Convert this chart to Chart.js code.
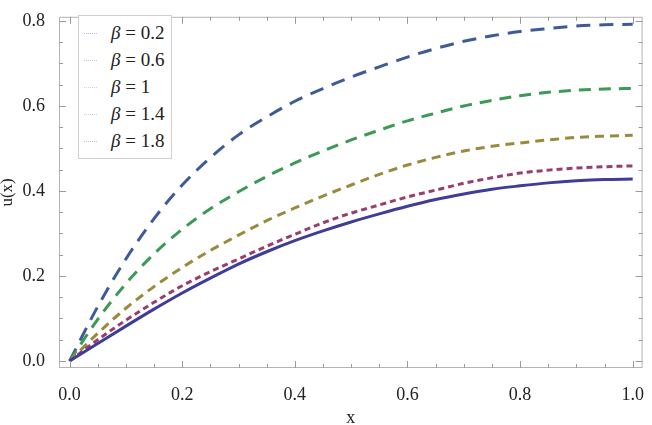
<!DOCTYPE html>
<html>
<head>
<meta charset="utf-8">
<script src="https://cdn.jsdelivr.net/npm/chart.js@4"></script>
<style>
  body { margin: 0; background: #fff; }
  #wrap { position: relative; width: 652px; height: 425px; }
  #legend {
    position: absolute; left: 78px; top: 15px; width: 92px; height: 142px;
    border: 1px solid #cfcfcf; background: #fff;
    font-family: "Liberation Serif", "Times New Roman", serif; font-size: 19px; color: #222;
  }
  #legend .row { position: absolute; left: 0; height: 20px; line-height: 20px; white-space: nowrap; }
  #legend .smp { position: absolute; left: 5px; top: 10px; width: 13px; border-top: 1px dotted; opacity: 0.35; }
  #legend .txt { position: absolute; left: 32px; top: 0; }
</style>
</head>
<body>
<div id="wrap">
  <canvas id="lineChart" width="652" height="425"></canvas>
  <div id="legend"></div>
</div>
<script>
// x grid of the curves
const xs = [0, 0.05, 0.1, 0.15, 0.2, 0.25, 0.3, 0.35, 0.4, 0.45, 0.5,
            0.55, 0.6, 0.65, 0.7, 0.75, 0.8, 0.85, 0.9, 0.95, 1.0];

const betas = ['0.2', '0.6', '1', '1.4', '1.8'];

// values
const u02 = [0, 0.041, 0.082, 0.122, 0.160, 0.195, 0.228, 0.257, 0.283, 0.306, 0.327,
             0.346, 0.364, 0.380, 0.393, 0.404, 0.412, 0.419, 0.424, 0.427, 0.428];
const u06 = [0, 0.050, 0.096, 0.138, 0.177, 0.210, 0.240, 0.270, 0.298, 0.325, 0.348,
             0.367, 0.386, 0.402, 0.418, 0.431, 0.442, 0.449, 0.454, 0.457, 0.459];
const u1  = [0, 0.065, 0.124, 0.175, 0.220, 0.260, 0.296, 0.330, 0.360, 0.388, 0.414,
             0.439, 0.461, 0.479, 0.494, 0.505, 0.513, 0.520, 0.526, 0.529, 0.531];
const u14 = [0, 0.098, 0.182, 0.252, 0.310, 0.358, 0.398, 0.434, 0.466, 0.494, 0.520,
             0.543, 0.565, 0.583, 0.600, 0.613, 0.624, 0.632, 0.637, 0.640, 0.641];
const u18 = [0, 0.128, 0.240, 0.335, 0.414, 0.478, 0.532, 0.574, 0.611, 0.641, 0.668,
             0.692, 0.715, 0.735, 0.752, 0.765, 0.775, 0.782, 0.788, 0.791, 0.792];

const series = [u02, u06, u1, u14, u18];
const colors = ['#3f3d99', '#993d71', '#998b3d', '#3d9956', '#3d5a99'];
const dashes = [[], [6, 4], [9, 6], [12, 8], [14, 9]];

const xTicks = [0, 0.2, 0.4, 0.6, 0.8, 1.0];
const yTicks = [0, 0.2, 0.4, 0.6, 0.8];
const xMinor = [0.05, 0.1, 0.15, 0.25, 0.3, 0.35, 0.45, 0.5, 0.55, 0.65, 0.7, 0.75, 0.85, 0.9, 0.95];
const yMinor = [0.05, 0.1, 0.15, 0.25, 0.3, 0.35, 0.45, 0.5, 0.55, 0.65, 0.7, 0.75];

const serif = '"Liberation Serif", "Times New Roman", serif';

// frame + inward ticks on all sides, Mathematica style
const framePlugin = {
    id: 'frame',
    afterDraw(chart) {
        const {ctx, chartArea: a, scales} = chart;
        ctx.save();
        ctx.strokeStyle = '#b4b4b4';
        ctx.lineWidth = 1;
        ctx.strokeRect(a.left + 0.5, a.top + 0.5, a.right - a.left - 1, a.bottom - a.top - 1);
        ctx.strokeStyle = '#9a9a9a';
        const tick = (vals, len) => {
            vals.forEach(v => {
                const px = Math.round(scales.x.getPixelForValue(v)) + 0.5;
                ctx.beginPath();
                ctx.moveTo(px, a.bottom); ctx.lineTo(px, a.bottom - len);
                ctx.moveTo(px, a.top); ctx.lineTo(px, a.top + len);
                ctx.stroke();
            });
        };
        const tickY = (vals, len) => {
            vals.forEach(v => {
                const py = Math.round(scales.y.getPixelForValue(v)) + 0.5;
                ctx.beginPath();
                ctx.moveTo(a.left, py); ctx.lineTo(a.left + len, py);
                ctx.moveTo(a.right, py); ctx.lineTo(a.right - len, py);
                ctx.stroke();
            });
        };
        tick(xTicks, 7); tick(xMinor, 4);
        tickY(yTicks, 7); tickY(yMinor, 4);
        ctx.restore();
    }
};

var ctx = document.getElementById('lineChart').getContext('2d');
var myChart = new Chart(ctx, {
    type: 'line',
    data: {
        datasets: series.map((s, i) => ({
            label: 'β = ' + betas[i],
            data: xs.map((x, j) => ({x: x, y: s[j]})),
            borderColor: colors[i],
            borderWidth: 3,
            borderDash: dashes[i],
            pointRadius: 0,
            fill: false,
            cubicInterpolationMode: 'monotone'
        }))
    },
    options: {
        responsive: false,
        animation: false,
        devicePixelRatio: 1,
        layout: { padding: { top: 3, right: 2, left: 0, bottom: 0 } },
        plugins: { legend: { display: false }, tooltip: { enabled: false } },
        scales: {
            x: {
                type: 'linear',
                min: -0.0188, max: 1.0175,
                afterBuildTicks: s => { s.ticks = xTicks.map(v => ({value: v})); },
                afterFit: s => { s.height = 57; },
                grid: { display: false },
                border: { display: false },
                ticks: {
                    padding: 8,
                    color: '#222',
                    font: { family: serif, size: 18 },
                    callback: v => v.toFixed(1)
                },
                title: {
                    display: true, text: 'x', color: '#222',
                    font: { family: serif, size: 18, lineHeight: 0.8 },
                    padding: 0
                }
            },
            y: {
                min: -0.0165, max: 0.8097,
                afterBuildTicks: s => { s.ticks = yTicks.map(v => ({value: v})); },
                afterFit: s => { s.width = 59; },
                grid: { display: false },
                border: { display: false },
                ticks: {
                    padding: 6,
                    color: '#222',
                    font: { family: serif, size: 18 },
                    callback: v => v.toFixed(1)
                },
                title: {
                    display: true, text: 'u(x)', color: '#222',
                    font: { family: serif, size: 17, lineHeight: 0.85 },
                    padding: 0
                }
            }
        }
    },
    plugins: [framePlugin]
});

// legend box inside the plot
const legend = document.getElementById('legend');
betas.forEach((b, i) => {
    const row = document.createElement('div');
    row.className = 'row';
    row.style.top = (7 + i * 27) + 'px';
    row.innerHTML = '<span class="smp" style="border-color:' + colors[i] + '"></span>' +
        '<span class="txt"><i>β</i> = ' + b + '</span>';
    legend.appendChild(row);
});
</script>
</body>
</html>
